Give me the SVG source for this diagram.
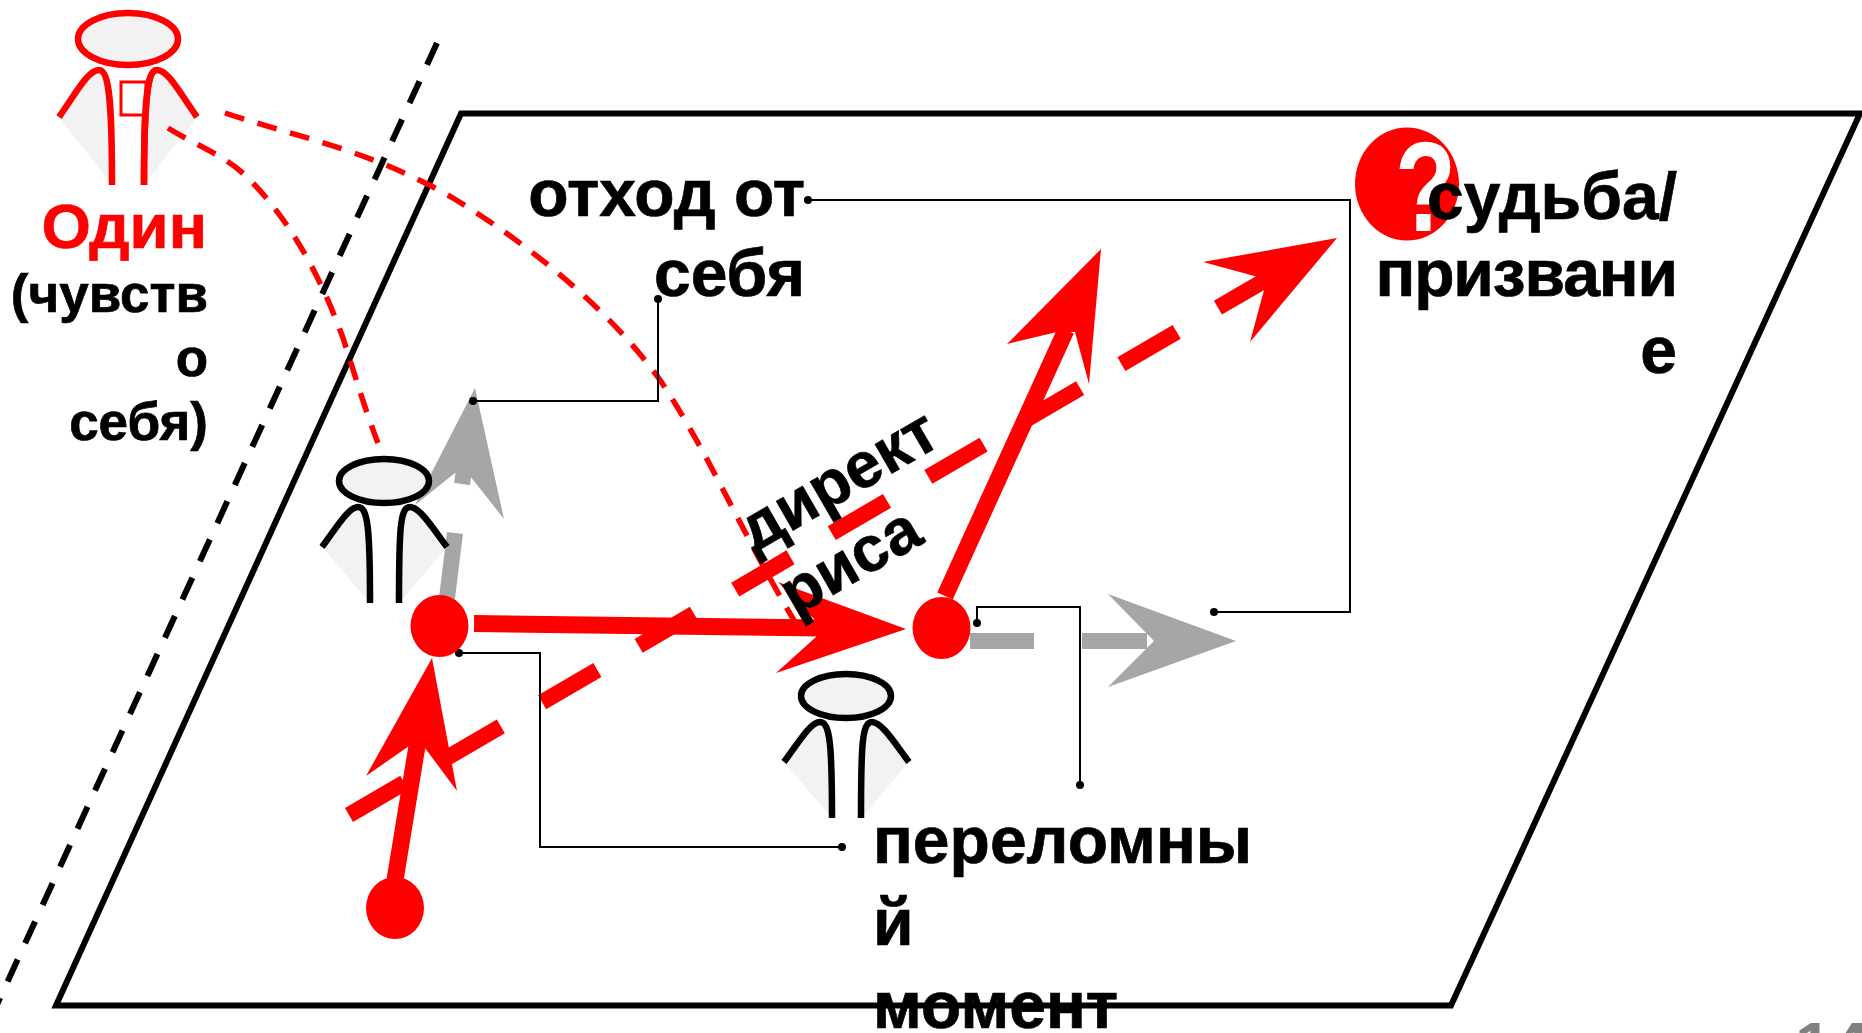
<svg xmlns="http://www.w3.org/2000/svg" width="1862" height="1033" viewBox="0 0 1862 1033">
<style>
text{font-family:"Liberation Sans",Arial,sans-serif;font-weight:700;fill:#000;stroke:#000;stroke-width:.7px}
.t66{font-size:66px}
.end{text-anchor:end}
.thin{fill:none;stroke:#000;stroke-width:2}
.dot{fill:#000}
.red{fill:#f00}
.grey{fill:#a6a6a6}
.rl{stroke:#f00;stroke-width:17;fill:none}
.gl{stroke:#a6a6a6;stroke-width:16;fill:none}
.rd{fill:none;stroke:#f00;stroke-width:5.500;stroke-dasharray:20 14}
.body{fill:#f2f2f2;stroke-width:6.500}
.head{fill:#f2f2f2;stroke-width:6.500}
.k{stroke:#000}
.r{stroke:#f00}
</style>
<g id="plane"><path d="M461 113.500H1860L1451 1005.500H56Z" fill="none" stroke="#000" stroke-width="6"/></g>
<g id="boundary"><path d="M437 43L-10 1020" fill="none" stroke="#000" stroke-width="6" stroke-dasharray="24 18"/></g>
<g id="question">
<ellipse cx="1407" cy="184" rx="52" ry="56.500" class="red"/>
<text transform="translate(1395 231) scale(.78 1)" style="font-size:128px;fill:#fff;stroke:none">?</text>
</g>
<g id="figure-self">
<ellipse class="head r" cx="128" cy="39" rx="50" ry="26"/>
<path class="body r" d="M59 117C76 93 88 70 99 70C110 70 112 110 112 185"/>
<path class="body r" d="M197 117C180 93 168 70 157 70C146 70 144 110 144 185"/>
<rect x="121" y="82" width="25" height="33" fill="#fff" stroke="#f00" stroke-width="3"/>
<path d="M157 70C146 70 144 110 144 185" fill="none" stroke="#f00" stroke-width="6.500"/>
</g>
<g id="arrow-grey-up">
<path class="gl" d="M447 598L455 533M462 484L464 470"/>
<path class="grey" d="M475 388L504 519L470 476L455 473L415 505Z"/>
</g>
<g id="figure-2">
<ellipse class="head k" cx="384" cy="481" rx="45" ry="22"/>
<path class="body k" d="M322 547C335 530 348 507 358 507C368 507 370 530 370 603"/>
<path class="body k" d="M447 547C434 530 420 507 410 507C400 507 399 530 399 603"/>
</g>
<g id="figure-3">
<ellipse class="head k" cx="846" cy="696" rx="45" ry="22"/>
<path class="body k" d="M784 762C797 745 810 722 820 722C830 722 832 745 832 818"/>
<path class="body k" d="M909 762C896 745 882 722 872 722C862 722 861 745 861 818"/>
</g>
<g id="connectors">
<path class="rd" d="M168 128C195 145 225 155 248 178C290 220 320 275 343 338C355 375 365 410 378 443"/>
<path class="rd" d="M225 113C300 138 370 150 453 198C530 245 610 310 660 380C710 455 740 530 795 622"/>
<path d="M349 815L1262 282" fill="none" stroke="#f00" stroke-width="16" stroke-dasharray="64 47.800"/>
<path class="red" d="M1337 238L1203 262L1258 277L1264 290L1250 342Z"/>
<path class="gl" d="M970 641H1034M1082 641H1147"/>
<path class="grey" d="M1236 641L1108 594L1154 641L1108 687Z"/>
<path class="rl" d="M474 623.500L820 628"/>
<path class="red" d="M906 629L778 582L815 620L816 637L776 673Z"/>
<path class="rl" d="M395 880L417 746"/>
<path class="red" d="M432 658L457 791L425 748L409 746L366 776Z"/>
<path class="rl" d="M945 596L1066 330"/>
<path class="red" d="M1101 249L1089 384L1075 332L1057 332L1007 344Z"/>
<path class="thin" d="M808 200H1350V612H1214"/>
<path class="thin" d="M658 299V401H473"/>
<path class="thin" d="M459 653H540V847H842"/>
<path class="thin" d="M977 623V607H1080V785"/>
<circle class="dot" cx="808" cy="200" r="4"/><circle class="dot" cx="1214" cy="612" r="4"/>
<circle class="dot" cx="658" cy="299" r="4"/><circle class="dot" cx="473" cy="401" r="4"/>
<circle class="dot" cx="459" cy="653" r="4"/><circle class="dot" cx="842" cy="847" r="4"/>
<circle class="dot" cx="977" cy="623" r="4"/><circle class="dot" cx="1080" cy="785" r="4"/>
</g>
<g id="point-1"><ellipse cx="439.500" cy="626" rx="29" ry="31" class="red"/></g>
<g id="point-2"><ellipse cx="395" cy="908" rx="29" ry="31" class="red"/></g>
<g id="point-3"><ellipse cx="941.500" cy="628" rx="29" ry="31" class="red"/></g>
<g id="label-odin">
<text x="207" y="248" class="end" style="font-size:63.500px;fill:#f00;stroke:#f00">Один</text>
<text class="end" style="font-size:53px"><tspan x="208" y="312">(чувств</tspan><tspan x="208" y="376">о</tspan><tspan x="208" y="440">себя)</tspan></text>
</g>
<g id="label-otkhod"><text class="t66 end"><tspan x="805" y="216">отход от</tspan><tspan x="805" y="296">себя</tspan></text></g>
<g id="label-sudba"><text class="t66 end"><tspan x="1677" y="219">судьба/</tspan><tspan x="1677" y="296" letter-spacing="-1.100">призвани</tspan><tspan x="1677" y="373">е</tspan></text></g>
<g id="label-moment"><text class="t66"><tspan x="873" y="863">переломны</tspan><tspan x="873" y="945">й</tspan><tspan x="873" y="1028">момент</tspan></text></g>
<g id="label-direct" transform="translate(754 553) rotate(-30)"><text style="font-size:64px"><tspan x="0" y="0">директ</tspan><tspan x="4" y="76">риса</tspan></text></g>
<g id="page-number"><text x="1795" y="1069" style="font-size:66px;fill:#808080;stroke:none">14</text></g>
</svg>
